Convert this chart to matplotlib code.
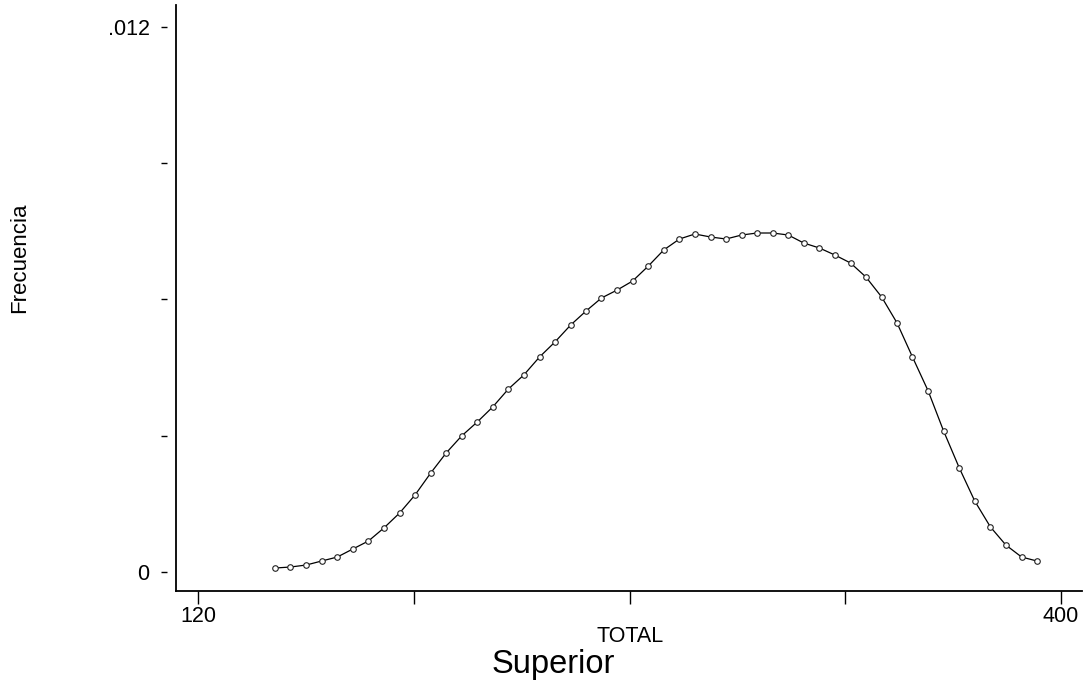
import matplotlib
matplotlib.use("Agg")
import matplotlib.pyplot as plt

plt.rcParams['font.family'] = ['Liberation Sans', 'DejaVu Sans']

# puntos de evaluacion de la densidad (TOTAL)
total = [145.0, 150.0, 155.1, 160.1, 165.2, 170.2, 175.3, 180.3, 185.4, 190.4,
         195.5, 200.5, 205.5, 210.6, 215.6, 220.7, 225.7, 230.8, 235.8, 240.9,
         245.9, 250.9, 256.0, 261.0, 266.1, 271.1, 276.2, 281.2, 286.3, 291.3,
         296.4, 301.4, 306.4, 311.5, 316.5, 321.6, 326.6, 331.7, 336.7, 341.8,
         346.8, 351.8, 356.9, 361.9, 367.0, 372.0, 377.1, 382.1, 387.2, 392.2]

frecuencia = [0.000088, 0.000110, 0.000154, 0.000242, 0.000330, 0.000506, 0.000683,
              0.000969, 0.001299, 0.001695, 0.002180, 0.002620, 0.002994, 0.003303,
              0.003633, 0.004029, 0.004338, 0.004734, 0.005064, 0.005438, 0.005747,
              0.006033, 0.006209, 0.006407, 0.006737, 0.007090, 0.007332, 0.007442,
              0.007376, 0.007332, 0.007420, 0.007464, 0.007464, 0.007420, 0.007244,
              0.007134, 0.006980, 0.006804, 0.006495, 0.006055, 0.005482, 0.004734,
              0.003985, 0.003104, 0.002290, 0.001563, 0.000991, 0.000594, 0.000330,
              0.000242]

xticks = [120, 190, 260, 330, 400]
xlabels = ['120', '', '', '', '400']
yticks = [0, 0.003, 0.006, 0.009, 0.012]
ylabels = ['0', '', '', '', '.012']

W, H = 1092, 688
fig = plt.figure(figsize=(W / 100, H / 100), dpi=100)
ax = fig.add_axes([176 / W, (H - 591) / H, (1082 - 176) / W, (591 - 5) / H])

ax.plot(total, frecuencia, color='black', lw=0.9, marker='o', markersize=4.0,
        markerfacecolor='white', markeredgecolor='#222222', markeredgewidth=0.8)

ax.set_xlim(112.86, 406.8)
ax.set_ylim(-0.000418, 0.012484)

for s in ['top', 'right']:
    ax.spines[s].set_visible(False)
for s in ['left', 'bottom']:
    ax.spines[s].set_linewidth(1.3)

ax.set_xticks(xticks)
ax.set_xticklabels(xlabels)
ax.tick_params(axis='x', direction='out', length=9, width=1.0, pad=2, labelsize=15.5)

# marcas del eje y separadas del eje, como guiones cortos
ax.set_yticks(yticks)
ax.set_yticklabels(ylabels)
ax.tick_params(axis='y', length=0, pad=19, labelsize=15.5)
ax.plot([-0.0132] * len(yticks), yticks, linestyle='none', marker='_',
        markersize=4, markeredgewidth=1.0, color='black',
        transform=ax.get_yaxis_transform(), clip_on=False)

fig.text(630 / W, 1 - 642 / H, 'TOTAL', ha='center', va='baseline', fontsize=15.5)
fig.text(553 / W, 1 - 673 / H, 'Superior', ha='center', va='baseline', fontsize=23.5)
fig.text(20 / W, 1 - 258 / H, 'Frecuencia', ha='center', va='center',
         rotation=90, fontsize=16)

fig.savefig('out.png', dpi=100)
